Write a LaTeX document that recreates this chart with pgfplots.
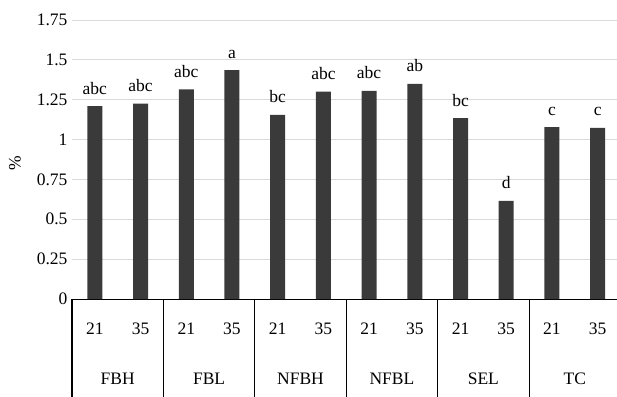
\documentclass[border=0pt]{standalone}
\usepackage{fontspec}
\setmainfont{Liberation Serif}
\usepackage{pgfplots}
\usepackage{pgfplotstable}
\pgfplotsset{compat=1.18}
\definecolor{barc}{HTML}{3A3A3A}
\definecolor{gridc}{HTML}{D9D9D9}
\newcommand\f{\fontsize{17.5pt}{21pt}\selectfont}
\pgfplotstableread{
x y lab
0 1.210 abc
1 1.225 abc
2 1.315 abc
3 1.435 a
4 1.155 bc
5 1.300 abc
6 1.305 abc
7 1.350 ab
8 1.135 bc
9 0.615 d
10 1.078 c
11 1.073 c
}\datatab
\begin{document}
\begin{tikzpicture}
\begin{axis}[
  at={(0,0)}, anchor=south west,
  scale only axis, width=548.5pt, height=279pt,
  xmin=-0.5, xmax=11.5, ymin=0, ymax=1.75,
  axis x line*=bottom, axis y line*=left,
  y axis line style={draw=none},
  x axis line style={draw=black, line width=0.9pt},
  xtick={0,...,11},
  xticklabels={21,35,21,35,21,35,21,35,21,35,21,35},
  xticklabel style={font=\f, anchor=base, yshift=-35pt},
  ytick={0,0.25,0.5,0.75,1,1.25,1.5,1.75},
  yticklabels={0,0.25,0.5,0.75,1,1.25,1.5,1.75},
  yticklabel style={font=\f, xshift=-1pt},
  tick style={draw=none},
  ymajorgrids, grid style={draw=gridc, line width=0.9pt},
  /pgf/number format/assume math mode=true,
  clip=false,
]
\addplot[ybar, bar width=15pt, fill=barc, draw=none,
  point meta=explicit symbolic,
  nodes near coords={\pgfplotspointmeta},
  nodes near coords style={font=\f, anchor=base, yshift=12pt, inner sep=0pt, text=black}]
  table[x=x, y=y, meta=lab] {\datatab};
\pgfplotsinvokeforeach{-0.5,1.5,3.5,5.5,7.5,9.5}{
  \draw[black, line width=1.1pt] (axis cs:#1,0) -- ++(0pt,-110pt);
}
\node[font=\f, rotate=90, anchor=center] at (axis description cs:-0.104,0.485) {\%};
\node[font=\f, anchor=base] at ([yshift=-85pt]axis cs:0.5,0) {FBH};
\node[font=\f, anchor=base] at ([yshift=-85pt]axis cs:2.5,0) {FBL};
\node[font=\f, anchor=base] at ([yshift=-85pt]axis cs:4.5,0) {NFBH};
\node[font=\f, anchor=base] at ([yshift=-85pt]axis cs:6.5,0) {NFBL};
\node[font=\f, anchor=base] at ([yshift=-85pt]axis cs:8.5,0) {SEL};
\node[font=\f, anchor=base] at ([yshift=-85pt]axis cs:10.5,0) {TC};
\end{axis}
\pgfresetboundingbox
\useasboundingbox (-72pt,-97pt) rectangle (545pt,299pt);
\end{tikzpicture}
\end{document}
